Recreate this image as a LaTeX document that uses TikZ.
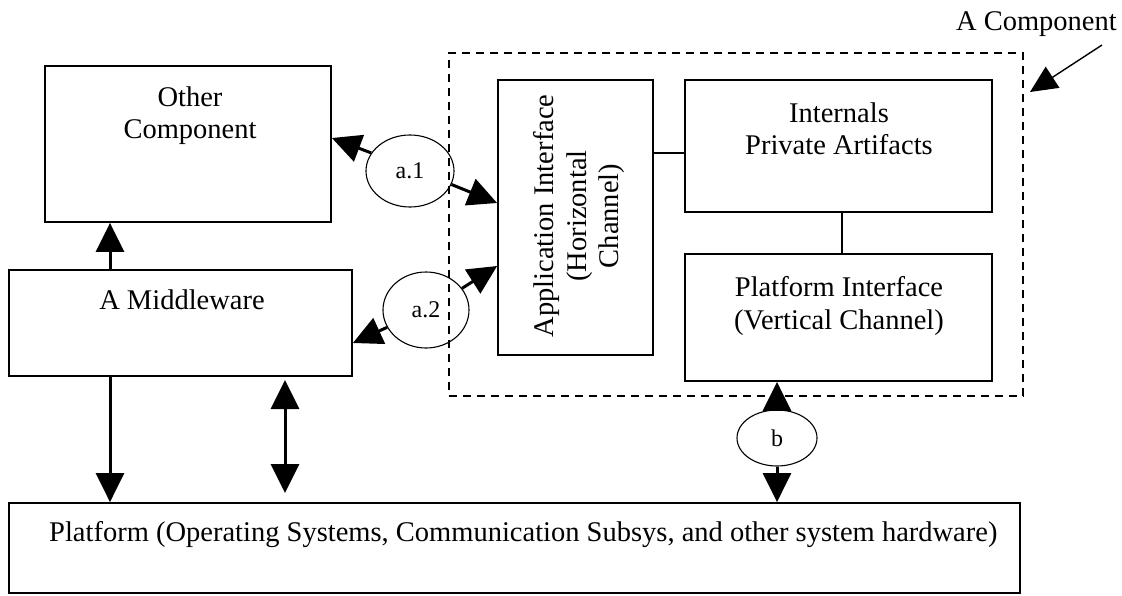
\documentclass[tikz,border=0pt]{standalone}
\usepackage{fontspec}
\setmainfont{Liberation Serif}
\usetikzlibrary{arrows.meta,shapes.geometric}
\newcommand\boxfont{\fontsize{28.5}{32.5}\selectfont}
\newcommand\ovalfont{\fontsize{24}{28}\selectfont}
\tikzset{
  box/.style={draw, line width=1.8pt, rectangle, inner sep=0pt},
  compbox/.style={draw, line width=1.5pt, rectangle, inner sep=0pt, dash pattern=on 8pt off 6pt},
  oval/.style={draw, line width=1.1pt, ellipse, inner sep=0pt, font=\ovalfont},
  txt/.style={inner sep=0pt, font=\boxfont, align=center},
  link/.style={line width=1.4pt},
  arr/.style={line width=3pt, -{Triangle[length=29pt,width=28pt]}},
  dblarr/.style={line width=3pt, {Triangle[length=29pt,width=28pt]}-{Triangle[length=29pt,width=28pt]}},
}
\begin{document}
\begin{tikzpicture}[x=1pt,y=-1pt]
  \useasboundingbox[fill=white] (0,0) rectangle (1122,595);

  % boxes
  \node[box, minimum width=286, minimum height=156] (other) at (188,144) {};
  \node[box, minimum width=343, minimum height=106] (mid) at (180.5,323) {};
  \node[box, minimum width=1011, minimum height=90] (plat) at (514.5,548) {};
  \node[compbox, minimum width=574, minimum height=343] (comp) at (736,224.5) {};
  \node[box, minimum width=155, minimum height=275] (app) at (575.5,217.5) {};
  \node[box, minimum width=307, minimum height=132] (int) at (838.5,146) {};
  \node[box, minimum width=307, minimum height=127] (pi) at (838.5,317.5) {};

  % box texts
  \node[txt, anchor=north] (otherT) at (190,86.5) {Other\\Component};
  \node[txt, anchor=north] (midT) at (182,289.5) {A Middleware};
  \node[txt, anchor=north] (intT) at (839,102.5) {Internals\\Private Artifacts};
  \node[txt, anchor=north] (piT) at (839,276.5) {Platform Interface\\(Vertical Channel)};
  \node[txt, anchor=base west] (platT) at (49,541)
    {Platform (Operating Systems, Communication Subsys, and other system hardware)};
  \node[txt, rotate=90] (appT) at (579,216)
    {Application Interface\\(Horizontal\\Channel)};
  \node[txt, anchor=base east] (compT) at (1117,30) {A Component};

  % interface ovals
  \node[oval, minimum width=88, minimum height=72] (a1) at (410,171) {a.1};
  \node[oval, minimum width=86, minimum height=76] (a2) at (426,310) {a.2};
  \node[oval, minimum width=80, minimum height=56] (b) at (777,438) {b};

  % helper coordinates
  \coordinate (lk) at (0,153);
  \coordinate (vk) at (842,0);
  \coordinate (ax) at (110,0);
  \coordinate (a1l) at (0,138);
  \coordinate (a1r) at (0,203);
  \coordinate (a2l) at (0,343);
  \coordinate (a2r) at (0,266);
  \coordinate (d1) at (285,380);
  \coordinate (d2) at (285,493);
  \coordinate (c1) at (1102,45);
  \coordinate (c2) at (1030,92);

  % internal links
  \draw[link] (app.east |- lk) -- (int.west |- lk);
  \draw[link] (int.south -| vk) -- (pi.north -| vk);

  % middleware arrows
  \draw[arr] (mid.north -| ax) -- (other.south -| ax);
  \draw[arr] (mid.south -| ax) -- (plat.north -| ax);
  \draw[dblarr] (d1) -- (d2);

  % horizontal channel arrows
  \draw[arr] (a1.155) -- (other.east |- a1l);
  \draw[arr] (a1.-18) -- (app.west |- a1r);
  \draw[arr] (a2.204) -- (mid.east |- a2l);
  \draw[arr] (a2.31) -- (app.west |- a2r);

  % vertical channel arrows
  \draw[arr] (b.north) -- (pi.south -| b);
  \draw[arr] (b.south) -- (plat.north -| b);

  % component callout
  \draw[line width=1.4pt, -{Triangle[length=27pt,width=25pt]}] (c1) -- (c2);
\end{tikzpicture}
\end{document}
